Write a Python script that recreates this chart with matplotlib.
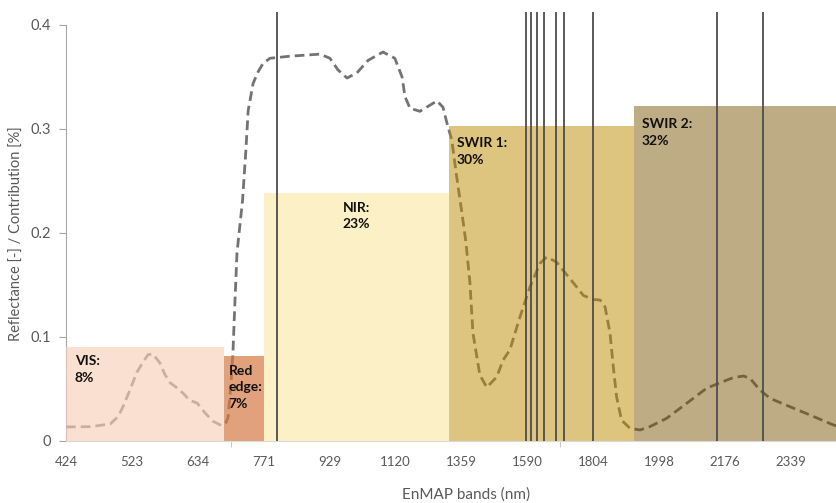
import matplotlib
matplotlib.use("Agg")
import matplotlib.pyplot as plt
from matplotlib.ticker import FixedLocator

plt.rcParams['font.family'] = ['Lato', 'DejaVu Sans']

# ---- data ----
tick_positions = [0, 20, 40, 60, 80, 100, 120, 140, 160, 180, 200, 220]
tick_labels = ['424', '523', '634', '771', '929', '1120', '1359', '1590',
               '1804', '1998', '2176', '2339']

band_idx = [0.0, 7.3, 13.4, 15.8, 17.3, 19.4, 21.5, 23.4, 24.9, 26.4, 28.5, 30.0,
            31.6, 33.7, 35.5, 37.6, 39.8, 42.2, 44.6, 47.3, 48.6, 49.2, 50.1, 50.7,
            51.3, 51.9, 53.6, 54.6, 55.3, 56.8, 58.3, 59.8, 61.9, 68.0, 77.1, 80.1,
            82.5, 85.3, 88.3, 91.7, 96.2, 99.8, 102.0, 102.9, 104.4, 107.4, 110.5,
            112.6, 114.4, 115.6, 117.1, 118.4, 119.9, 121.3, 121.6, 122.6, 123.5,
            125.6, 127.7, 130.7, 132.7, 134.7, 137.8, 140.8, 143.9, 145.9, 148.9,
            150.9, 154.0, 157.0, 160.0, 162.1, 163.6, 165.1, 166.1, 167.1, 168.6,
            171.2, 174.2, 177.2, 182.3, 188.4, 194.4, 198.5, 202.5, 205.6, 207.6,
            210.6, 213.7, 219.7, 225.8, 232.9, 234.0]
reflectance = [0.0135, 0.0138, 0.0163, 0.0234, 0.033, 0.049, 0.066, 0.076, 0.083,
               0.0837, 0.075, 0.064, 0.056, 0.051, 0.046, 0.039, 0.0365, 0.027, 0.019,
               0.0147, 0.018, 0.023, 0.056, 0.0875, 0.136, 0.181, 0.232, 0.280, 0.318,
               0.344, 0.355, 0.363, 0.368, 0.370, 0.372, 0.368, 0.357, 0.349, 0.354,
               0.366, 0.374, 0.368, 0.350, 0.331, 0.320, 0.317, 0.323, 0.327, 0.321,
               0.306, 0.289, 0.258, 0.225, 0.193, 0.184, 0.152, 0.104, 0.0635, 0.0516,
               0.0615, 0.078, 0.0875, 0.1195, 0.148, 0.171, 0.177, 0.172, 0.164, 0.152,
               0.140, 0.136, 0.1356, 0.129, 0.104, 0.0714, 0.0426, 0.020, 0.0122, 0.0106,
               0.0138, 0.0218, 0.0363, 0.0507, 0.056, 0.0609, 0.0625, 0.0603, 0.049,
               0.041, 0.033, 0.025, 0.0154, 0.0145]

region_names = ['VIS:', 'Red\nedge:', 'NIR:', 'SWIR 1:', 'SWIR 2:']
region_pct = ['8%', '7%', '23%', '30%', '32%']
region_start = [0, 48, 60, 116.2, 172.4]
region_end = [48, 60, 116.2, 172.4, 234]
region_height = [0.0905, 0.082, 0.238, 0.303, 0.3225]

selected_bands = [64.0, 139.5, 141.1, 142.8, 145.0, 148.7, 151.1, 159.8, 197.5, 211.5]

# ---- style ----
region_colors = [(248/255, 208/255, 183/255), (211/255, 122/255, 68/255),
                 (251/255, 234/255, 176/255), (189/255, 141/255, 0/255),
                 (120/255, 82/255, 0/255)]
region_alpha = [0.65, 0.7, 0.7, 0.5, 0.48]
label_x = [2.7, 49.4, 84.0, 118.6, 174.7]
label_y = [0.0825, 0.0735, 0.230, 0.292, 0.3105]

fig = plt.figure(figsize=(8.37, 5.03), dpi=100)
ax = fig.add_axes([66/837, 1-441/503, 1-66/837, (441-12)/503])

ax.plot(band_idx, reflectance, color='#737373', lw=2.0, dashes=(3.5, 1.8), zorder=1)

for s, e, h, c, a in zip(region_start, region_end, region_height, region_colors, region_alpha):
    ax.bar(s, h, width=e - s, align='edge', color=c, alpha=a, lw=0, zorder=2)

for b in selected_bands:
    ax.axvline(b, color='#4d4d4d', lw=1.3, zorder=3)

for name, pct, x, y in zip(region_names, region_pct, label_x, label_y):
    ax.text(x, y, name + '\n' + pct, fontsize=10, fontweight='bold', color='#111111',
            va='top', ha='left', linespacing=1.45, zorder=4)

ax.set_xlim(0, 234)
ax.set_ylim(0, 0.4125)

ax.set_xticks(tick_positions)
ax.set_xticklabels(tick_labels)
ax.xaxis.set_minor_locator(FixedLocator([50, 100, 150, 200]))
ax.tick_params(axis='x', which='major', length=0, pad=11, labelsize=9.5, labelcolor='#595959')
ax.tick_params(axis='x', which='minor', length=4, color='#bfbfbf', direction='out')

ax.set_yticks([0, 0.1, 0.2, 0.3, 0.4])
ax.set_yticklabels(['0', '0.1', '0.2', '0.3', '0.4'])
ax.tick_params(axis='y', length=5, color='#a6a6a6', pad=6, labelsize=10.5, labelcolor='#595959')

for sp in ['top', 'right']:
    ax.spines[sp].set_visible(False)
ax.spines['left'].set_bounds(0, 0.4)
ax.spines['left'].set_color('#a6a6a6')
ax.spines['bottom'].set_color('#d9d9d9')
ax.spines['left'].set_zorder(0.5)
ax.patch.set_visible(False)

fig.text(17/837, 1-234/503, 'Reflectance [-] / Contribution [%]', rotation=90,
         ha='center', va='center', fontsize=10.5, color='#595959')
fig.text(466/837, 1-495/503, 'EnMAP bands (nm)', ha='center', va='center',
         fontsize=11, color='#595959')

fig.savefig('out.png', dpi=100)
